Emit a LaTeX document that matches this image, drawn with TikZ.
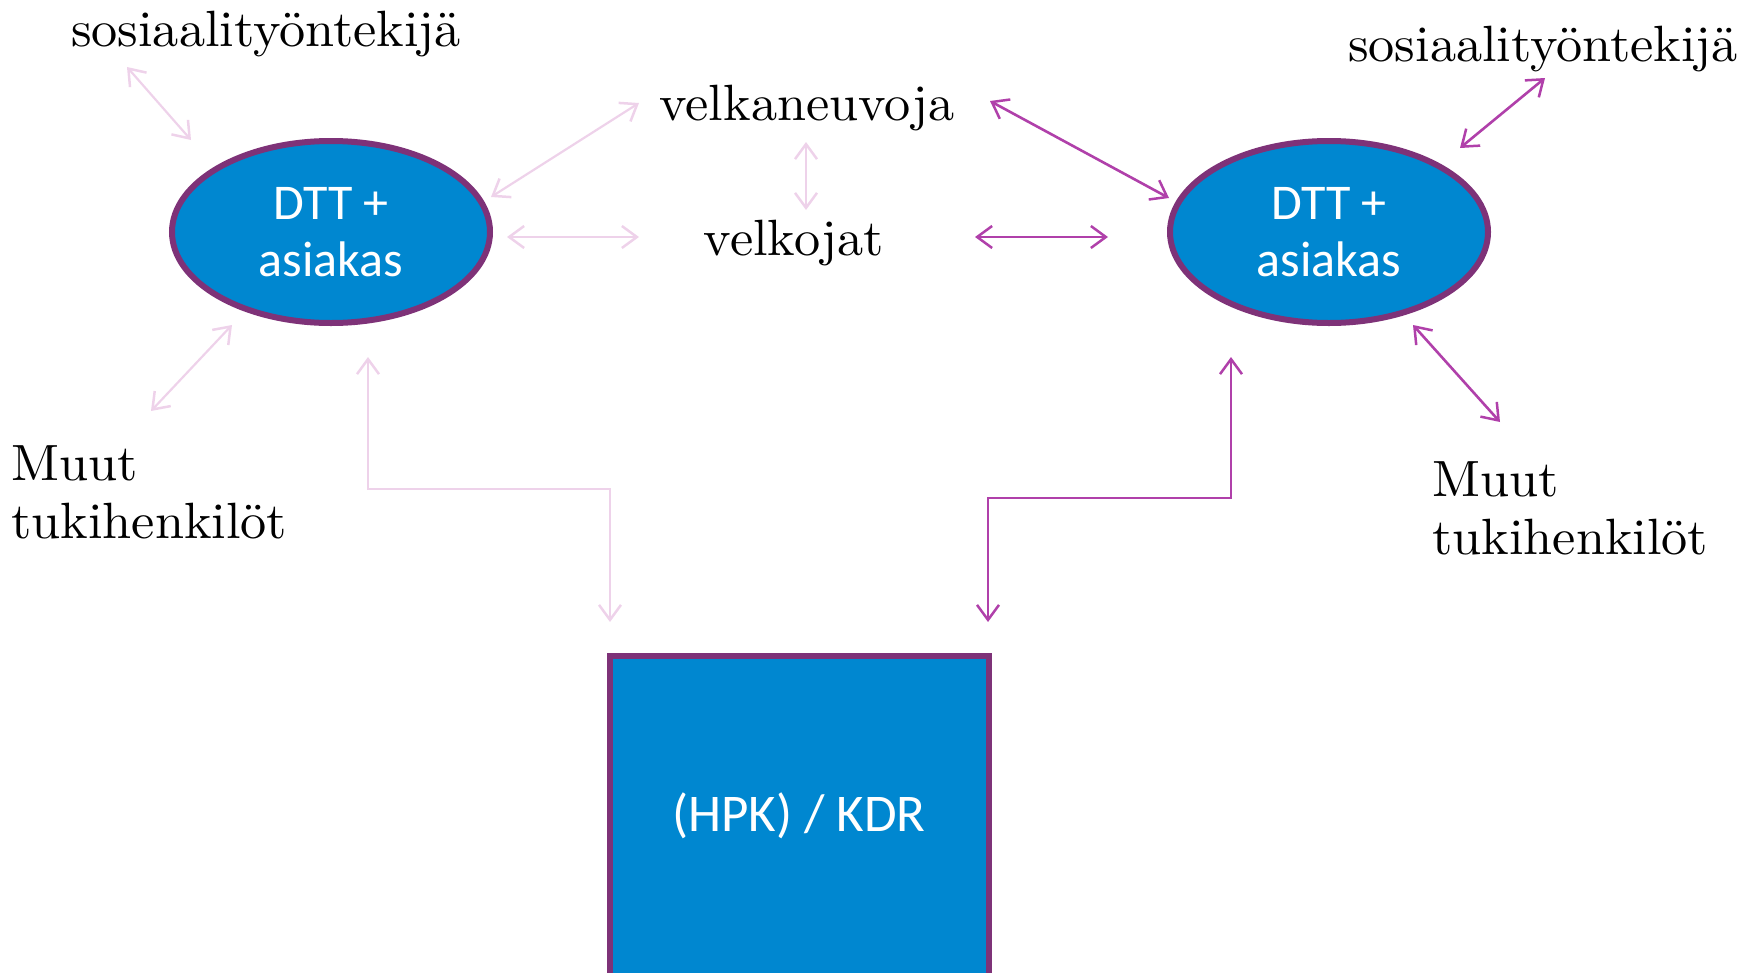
\documentclass[tikz,border=0pt]{standalone}
\usepackage{fontspec}
\newfontfamily\shapefont{Carlito}
\newfontfamily\lblfont{lmroman10-regular.otf}[FakeStretch=1.025]
\usetikzlibrary{arrows.meta,shapes.geometric}
\definecolor{fillblue}{RGB}{0,135,208}
\definecolor{edgepurple}{RGB}{126,50,120}
\definecolor{lightpink}{RGB}{238,210,234}
\definecolor{darkmag}{RGB}{176,64,170}
\tikzset{
  barb/.tip={Straight Barb[length=15pt,width=22pt,line width=2.5pt]},
  lightarr/.style={draw=lightpink,line width=2.2pt,barb-barb},
  darkarr/.style={draw=darkmag,line width=2.6pt,barb-barb},
  blob/.style={ellipse,draw=edgepurple,line width=6pt,fill=fillblue,
    minimum width=318pt,minimum height=182pt,inner sep=0pt,align=center,
    text=white,font=\shapefont\fontsize{50}{57}\selectfont},
  lbl/.style={inner sep=0pt,font=\lblfont\fontsize{51}{58}\selectfont,text=black},
}
\begin{document}
\begin{tikzpicture}[x=1pt,y=-1pt]
\useasboundingbox (0,0) rectangle (1758,972);
% shapes
\node[blob] (L) at (331,232) {DTT +\\asiakas};
\node[blob] (R) at (1329,232) {DTT +\\asiakas};
\path[draw=edgepurple,line width=5.5pt,fill=fillblue] (610,656) rectangle (989,976);
\node[inner sep=0pt,text=white,font=\shapefont\fontsize{53}{60}\selectfont] (K) at (799,816) {(HPK) / KDR};
% labels
\node[lbl] (s1) at (266,34) {sosiaalityöntekijä};
\node[lbl] (s2) at (1543,49) {sosiaalityöntekijä};
\node[lbl] (vn) at (807,108) {velkaneuvoja};
\node[lbl] (vk) at (794,243) {velkojat};
\node[lbl,align=left,anchor=west] (m1) at (11,492) {Muut\\tukihenkilöt};
\node[lbl,align=left,anchor=west] (m2) at (1432,508) {Muut\\tukihenkilöt};
% arrow end points
\coordinate (a1) at (127,67);  \coordinate (b1) at (191,140);
\coordinate (a2) at (639,103); \coordinate (b2) at (491,197);
\coordinate (a3) at (507,237); \coordinate (b3) at (639,237);
\coordinate (a4) at (806,142); \coordinate (b4) at (806,210);
\coordinate (a5) at (151,411); \coordinate (b5) at (232,325);
\coordinate (a6) at (368,357); \coordinate (b6) at (610,622);
\coordinate (a7) at (990,101); \coordinate (b7) at (1169,198);
\coordinate (a8) at (975,237); \coordinate (b8) at (1108,237);
\coordinate (a9) at (1545,78); \coordinate (b9) at (1460,148);
\coordinate (a10) at (1413,325); \coordinate (b10) at (1500,422);
\coordinate (a11) at (1231,357); \coordinate (b11) at (988,622);
% light arrows
\draw[lightarr] (a1) -- (b1);
\draw[lightarr] (a2) -- (b2);
\draw[lightarr] (a3) -- (b3);
\draw[lightarr] (a4) -- (b4);
\draw[lightarr] (a5) -- (b5);
\draw[lightarr] (a6) -- (368,489) -- (610,489) -- (b6);
% dark arrows
\draw[darkarr] (a7) -- (b7);
\draw[darkarr] (a8) -- (b8);
\draw[darkarr] (a9) -- (b9);
\draw[darkarr] (a10) -- (b10);
\draw[darkarr] (a11) -- (1231,498) -- (988,498) -- (b11);
\end{tikzpicture}
\end{document}
